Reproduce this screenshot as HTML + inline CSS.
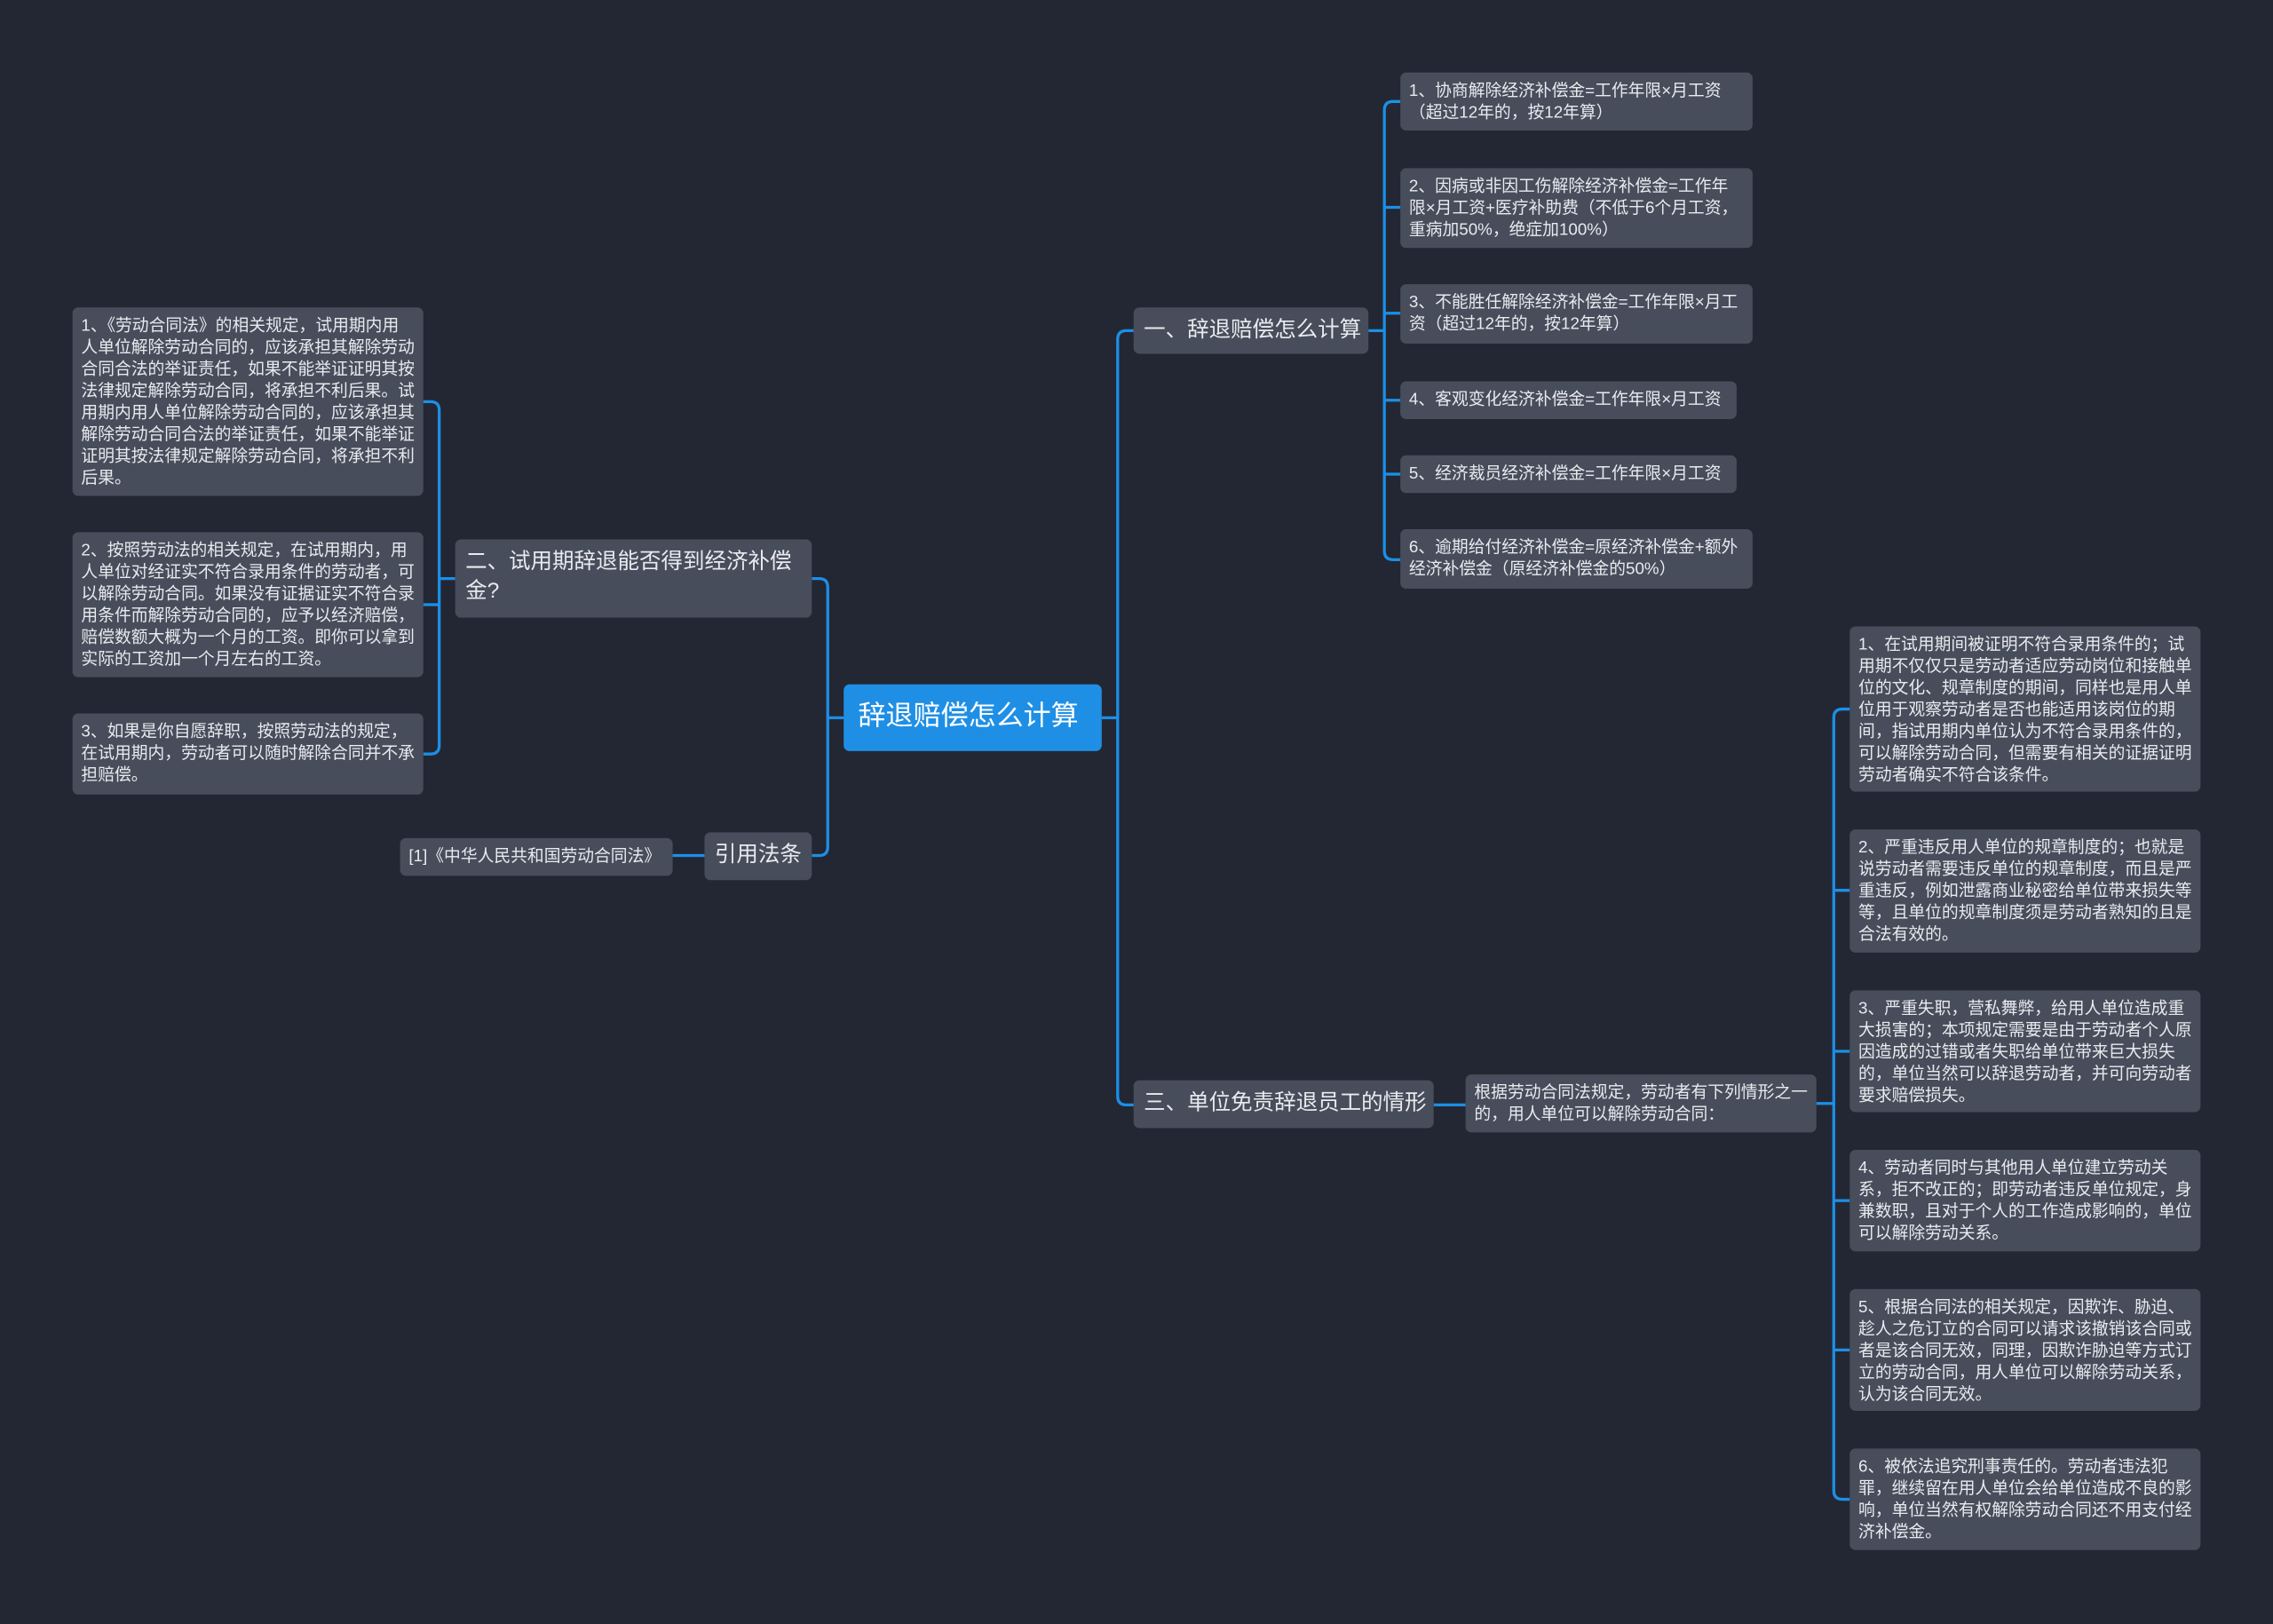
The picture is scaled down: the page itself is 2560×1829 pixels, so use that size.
<!DOCTYPE html>
<html><head><meta charset="utf-8"><style>
html,body{margin:0;padding:0;background:#232733;}
#wrap{position:relative;width:1568px;height:1120px;transform:scale(1.63265,1.63304);transform-origin:0 0;overflow:hidden;background:#232733;font-family:"Liberation Sans","Noto Sans CJK SC",sans-serif;}
.n{position:absolute;background:#474d5b;color:#e8eaee;border-radius:4px;box-sizing:border-box;font-size:11.5px;line-height:15px;padding:6px 6px 4px;}
.b{font-size:15px;line-height:20px;padding:6px 7px;white-space:nowrap;}
svg{position:absolute;left:0;top:0;}
</style></head><body><div id="wrap">
<svg width="1568" height="1120" fill="none" stroke="#1c8fe6" stroke-width="2">
<path d="M760 495 H771"/>
<path d="M782 228 H777 Q771 228 771 234 V756 Q771 762 777 762 H782"/>
<path d="M944 228 H955"/>
<path d="M966 70 H961 Q955 70 955 76 V380 Q955 386 961 386 H966"/>
<path d="M955 143 H966 M955 216 H966 M955 276 H966 M955 327 H966"/>
<path d="M989 762 H1011"/>
<path d="M1253 761 H1265"/>
<path d="M1276 489 H1271 Q1265 489 1265 495 V1028 Q1265 1034 1271 1034 H1276"/>
<path d="M1265 614 H1276 M1265 725 H1276 M1265 828 H1276 M1265 931 H1276"/>
<path d="M582 495 H571"/>
<path d="M560 399 H565 Q571 399 571 405 V584 Q571 590 565 590 H560"/>
<path d="M314 399 H303"/>
<path d="M292 277 H297 Q303 277 303 283 V514 Q303 520 297 520 H292"/>
<path d="M303 417 H292"/>
<path d="M486 590 H464"/>
</svg>
<div class="n" style="left:582px;top:472px;width:178px;height:46px;background:#1f8fe5;color:#fff;font-size:19px;line-height:24px;padding:11px 10px;white-space:nowrap;">辞退赔偿怎么计算</div>
<div class="n b" style="left:782px;top:212px;width:162px;height:32px;">一、辞退赔偿怎么计算</div>
<div class="n b" style="left:782px;top:745px;width:207px;height:33px;">三、单位免责辞退员工的情形</div>
<div class="n b" style="left:314px;top:372px;width:246px;height:54px;white-space:normal;">二、试用期辞退能否得到经济补偿金?</div>
<div class="n b" style="left:486px;top:574px;width:74px;height:33px;">引用法条</div>
<div class="n" style="left:276px;top:578px;width:188px;height:26px;white-space:nowrap;">[1]《中华人民共和国劳动合同法》</div>
<div class="n" style="left:50px;top:212px;width:242px;height:130px;">1、《劳动合同法》的相关规定，试用期内用人单位解除劳动合同的，应该承担其解除劳动合同合法的举证责任，如果不能举证证明其按法律规定解除劳动合同，将承担不利后果。试用期内用人单位解除劳动合同的，应该承担其解除劳动合同合法的举证责任，如果不能举证证明其按法律规定解除劳动合同，将承担不利后果。</div>
<div class="n" style="left:50px;top:367px;width:242px;height:100px;">2、按照劳动法的相关规定，在试用期内，用人单位对经证实不符合录用条件的劳动者，可以解除劳动合同。如果没有证据证实不符合录用条件而解除劳动合同的，应予以经济赔偿，赔偿数额大概为一个月的工资。即你可以拿到实际的工资加一个月左右的工资。</div>
<div class="n" style="left:50px;top:492px;width:242px;height:56px;">3、如果是你自愿辞职，按照劳动法的规定，在试用期内，劳动者可以随时解除合同并不承担赔偿。</div>
<div class="n" style="left:966px;top:50px;width:243px;height:40px;">1、协商解除经济补偿金=工作年限×月工资（超过12年的，按12年算）</div>
<div class="n" style="left:966px;top:116px;width:243px;height:55px;">2、因病或非因工伤解除经济补偿金=工作年限×月工资+医疗补助费（不低于6个月工资，重病加50%，绝症加100%）</div>
<div class="n" style="left:966px;top:196px;width:243px;height:41px;">3、不能胜任解除经济补偿金=工作年限×月工资（超过12年的，按12年算）</div>
<div class="n" style="left:966px;top:263px;width:232px;height:26px;">4、客观变化经济补偿金=工作年限×月工资</div>
<div class="n" style="left:966px;top:314px;width:232px;height:26px;">5、经济裁员经济补偿金=工作年限×月工资</div>
<div class="n" style="left:966px;top:365px;width:243px;height:41px;">6、逾期给付经济补偿金=原经济补偿金+额外经济补偿金（原经济补偿金的50%）</div>
<div class="n" style="left:1011px;top:741px;width:242px;height:40px;">根据劳动合同法规定，劳动者有下列情形之一的，用人单位可以解除劳动合同：</div>
<div class="n" style="left:1276px;top:432px;width:242px;height:114px;">1、在试用期间被证明不符合录用条件的；试用期不仅仅只是劳动者适应劳动岗位和接触单位的文化、规章制度的期间，同样也是用人单位用于观察劳动者是否也能适用该岗位的期间，指试用期内单位认为不符合录用条件的，可以解除劳动合同，但需要有相关的证据证明劳动者确实不符合该条件。</div>
<div class="n" style="left:1276px;top:572px;width:242px;height:85px;">2、严重违反用人单位的规章制度的；也就是说劳动者需要违反单位的规章制度，而且是严重违反，例如泄露商业秘密给单位带来损失等等，且单位的规章制度须是劳动者熟知的且是合法有效的。</div>
<div class="n" style="left:1276px;top:683px;width:242px;height:84px;">3、严重失职，营私舞弊，给用人单位造成重大损害的；本项规定需要是由于劳动者个人原因造成的过错或者失职给单位带来巨大损失的，单位当然可以辞退劳动者，并可向劳动者要求赔偿损失。</div>
<div class="n" style="left:1276px;top:793px;width:242px;height:70px;">4、劳动者同时与其他用人单位建立劳动关系，拒不改正的；即劳动者违反单位规定，身兼数职，且对于个人的工作造成影响的，单位可以解除劳动关系。</div>
<div class="n" style="left:1276px;top:889px;width:242px;height:84px;">5、根据合同法的相关规定，因欺诈、胁迫、趁人之危订立的合同可以请求该撤销该合同或者是该合同无效，同理，因欺诈胁迫等方式订立的劳动合同，用人单位可以解除劳动关系，认为该合同无效。</div>
<div class="n" style="left:1276px;top:999px;width:242px;height:70px;">6、被依法追究刑事责任的。劳动者违法犯罪，继续留在用人单位会给单位造成不良的影响，单位当然有权解除劳动合同还不用支付经济补偿金。</div>
</div></body></html>
